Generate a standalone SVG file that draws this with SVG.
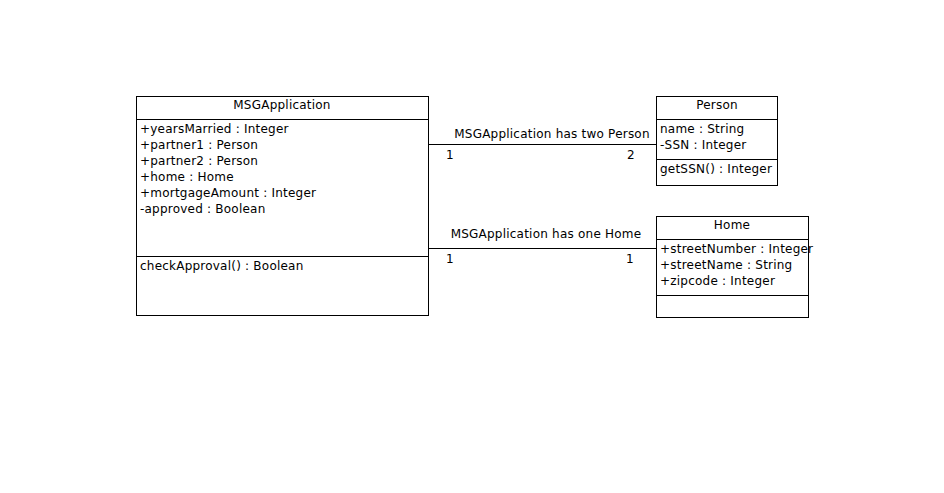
<svg xmlns="http://www.w3.org/2000/svg" width="944" height="493" viewBox="0 0 944 493">
<style>
.box{fill:#fff;stroke:#000;stroke-width:1}
.ln{stroke:#000;stroke-width:1;fill:none}
text{font-family:"DejaVu Sans",sans-serif;font-size:12px;letter-spacing:0.22px;fill:#000}
.c{text-anchor:middle}
</style>
<rect width="944" height="493" fill="#fff"/>
<g id="connectors">
<line class="ln" x1="428.5" y1="144.5" x2="656.5" y2="144.5"/>
<text class="c" x="552" y="138">MSGApplication has two Person</text>
<text x="446" y="159">1</text>
<text x="627" y="159">2</text>
<line class="ln" x1="428.5" y1="248.5" x2="656.5" y2="248.5"/>
<text class="c" x="546" y="238">MSGApplication has one Home</text>
<text x="446" y="263">1</text>
<text x="626" y="263">1</text>
</g>
<g id="MSGApplication">
<rect class="box" x="136.5" y="96.5" width="292" height="219"/>
<line class="ln" x1="136.5" y1="119.5" x2="428.5" y2="119.5"/>
<line class="ln" x1="136.5" y1="256.5" x2="428.5" y2="256.5"/>
<text class="c" x="282" y="109">MSGApplication</text>
<text x="140" y="133">+yearsMarried : Integer</text>
<text x="140" y="149">+partner1 : Person</text>
<text x="140" y="165">+partner2 : Person</text>
<text x="140" y="181">+home : Home</text>
<text x="140" y="197">+mortgageAmount : Integer</text>
<text x="140" y="213">-approved : Boolean</text>
<text x="140" y="270">checkApproval() : Boolean</text>
</g>
<g id="Person">
<rect class="box" x="656.5" y="96.5" width="121" height="89"/>
<line class="ln" x1="656.5" y1="119.5" x2="777.5" y2="119.5"/>
<line class="ln" x1="656.5" y1="159.5" x2="777.5" y2="159.5"/>
<text class="c" x="717" y="109">Person</text>
<text x="660" y="133">name : String</text>
<text x="660" y="149">-SSN : Integer</text>
<text x="660" y="173">getSSN() : Integer</text>
</g>
<g id="Home">
<rect class="box" x="656.5" y="216.5" width="152" height="101"/>
<line class="ln" x1="656.5" y1="239.5" x2="808.5" y2="239.5"/>
<line class="ln" x1="656.5" y1="295.5" x2="808.5" y2="295.5"/>
<text class="c" x="732" y="229">Home</text>
<text x="660" y="253">+streetNumber : Integer</text>
<text x="660" y="269">+streetName : String</text>
<text x="660" y="285">+zipcode : Integer</text>
</g>
</svg>
